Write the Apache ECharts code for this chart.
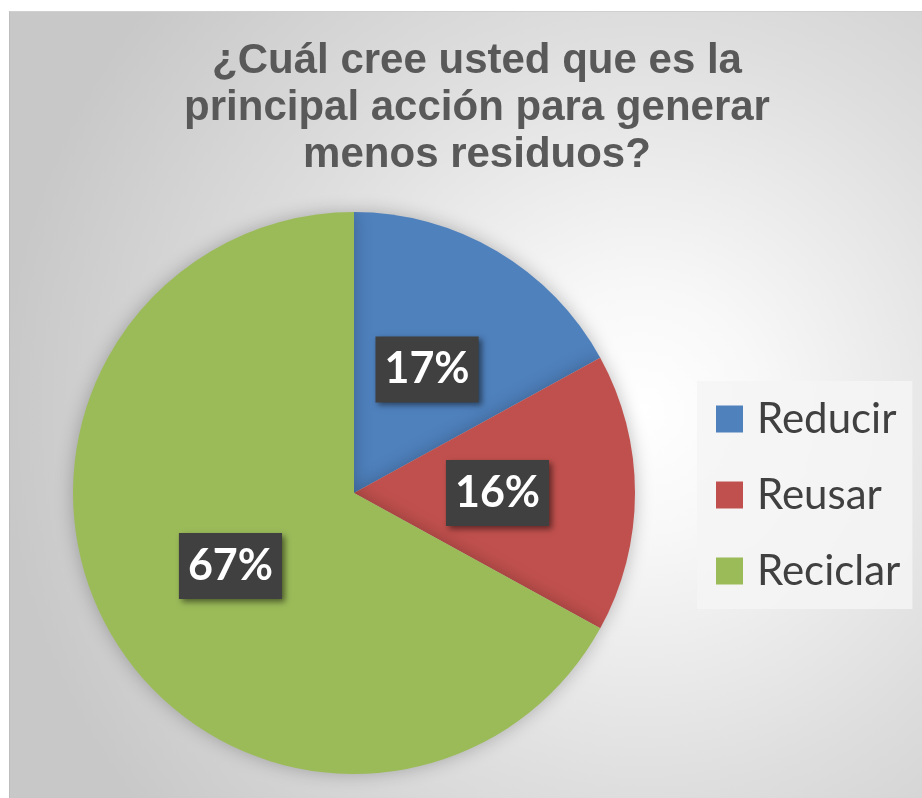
<!DOCTYPE html>
<html>
<head>
<meta charset="utf-8">
<script src="https://cdn.jsdelivr.net/npm/echarts@6/dist/echarts.min.js"></script>
<style>
  html, body { margin: 0; padding: 0; background: #fff; }
  #wrap { position: absolute; left: 9px; top: 11px; width: 913px; height: 787px;
    border-left: 1px solid #bdbdbd; border-top: 1px solid #d0d0d0; box-sizing: border-box;
    background: radial-gradient(circle at 630px 400px, #ffffff 0px, #f8f8f8 120px, #dedede 380px, #c8c8c8 640px); }
  #chart { width: 100%; height: 100%; }
</style>
</head>
<body>
<div id="wrap"><div id="chart"></div></div>
<script>
// answer categories and shares
const categories = ['Reducir', 'Reusar', 'Reciclar']
const values = [17, 16, 67]
const colors = ['#4F81BD', '#C0504D', '#9BBB59']

const chart = echarts.init(document.getElementById('chart'))
chart.setOption({
  animation: false,
  title: {
    text: '¿Cuál cree usted que es la\nprincipal acción para generar\nmenos residuos?',
    left: 462,
    textAlign: 'center',
    top: 21,
    textStyle: {
      fontFamily: 'Liberation Sans, Arial',
      fontWeight: 'bold',
      fontSize: 42,
      lineHeight: 47,
      color: '#595959'
    }
  },
  legend: {
    orient: 'vertical',
    left: 687,
    top: 369,
    width: 222,
    itemWidth: 27,
    itemHeight: 27,
    itemGap: 34,
    icon: 'rect',
    padding: [17, 12, 17, 19],
    backgroundColor: 'rgba(244,244,244,0.85)',
    data: categories,
    textStyle: {
      fontFamily: 'Lato',
      fontSize: 42,
      lineHeight: 40,
      color: '#404040',
      padding: [0, 0, 0, 9]
    }
  },
  series: [
    {
      type: 'pie',
      center: [344, 481],
      radius: [0, 281],
      startAngle: 90,
      clockwise: true,
      data: categories.map((name, i) => ({
        name: name,
        value: values[i],
        itemStyle: { color: colors[i] }
      })),
      itemStyle: {
        shadowColor: 'rgba(0,0,0,0.25)',
        shadowBlur: 18
      },
      label: {
        position: 'inside',
        formatter: '{d}%',
        fontFamily: 'Lato',
        fontWeight: 'bold',
        fontSize: 43,
        lineHeight: 42,
        color: '#fff',
        backgroundColor: '#404040',
        padding: [12, 9],
        shadowColor: 'rgba(0,0,0,0.5)',
        shadowBlur: 6,
        shadowOffsetX: 3,
        shadowOffsetY: 3
      },
      labelLine: { show: false },
      emphasis: { disabled: true }
    }
  ]
})
</script>
</body>
</html>
